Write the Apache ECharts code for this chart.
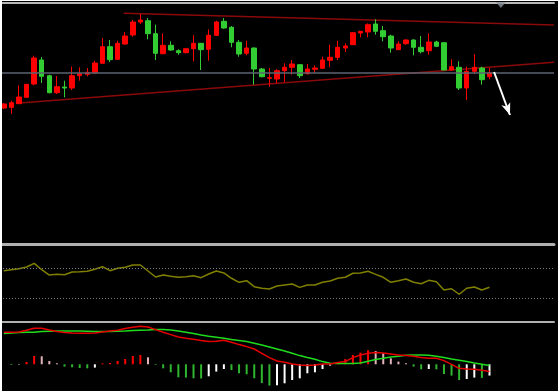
<!DOCTYPE html>
<html>
<head>
<meta charset="utf-8">
<script src="https://cdn.jsdelivr.net/npm/echarts@6/dist/echarts.min.js"></script>
<style>
html,body{margin:0;padding:0;background:#000;}
#c{width:558px;height:391px;}
</style>
</head>
<body>
<div id="c"></div>
<script>
// ---- data ----
const slotCount = 73; // 65 bars + empty space on the right
const categories = Array.from({length: slotCount}, (_, i) => String(i + 1));

const opens  = [192,192.7,196.3,202.7,216,240,224.3,207.3,213,212,224.3,225.7,227.3,236.7,253.3,240.7,256,265,278,279.3,266.3,246.3,254.7,249.3,247.3,251.3,256.7,250.7,264.7,278.7,272.7,257.7,246.7,252,231,221.7,221,229.3,232.7,235.3,226.3,230.7,231.7,239.7,242.7,252,255.3,267,268,276,269.3,264,250.3,256.3,260,252.7,249.3,258,257.3,230,232.7,212,228.7,232,223.3];
const closes = [196,197.3,203,215.7,242,223.7,207.3,213.3,212,224.3,226.3,227.7,237,253.3,240.3,256.7,264,278,280,266.3,246.7,254.7,250,247.3,251.3,256.7,250.3,264.7,278,272,257.7,246,252,231,223.3,222.3,229.3,232.7,236,224.3,231,232,240,242.7,252.7,254,267.3,268.7,275.3,268.7,263.3,252,256,260,252.7,248.3,258,253.7,230,233.3,212,228.7,232.7,220.3,227.3];
const lows   = [191,186,196,202,214.7,217,206.7,206,202.7,210,219.3,223.7,226,236.7,238,240,255.3,263.3,276,260.7,240,245.7,249.3,245.3,246.7,238.7,230,239.3,264,271.3,252.7,243.3,244.7,215.3,222.7,213.3,216.7,218,225.3,222,225.3,226.7,231.3,232.7,240,248,255,262.7,262.7,265.3,258.7,247.3,250,255.3,244.7,246.7,245.3,253,229.7,229.3,210,200,226,215.3,220.7];
const highs  = [197,199.3,214.7,216,244.3,243,225.3,224,219.3,233.3,232.7,232,239.3,262,260,259.3,268,280,286,282,275.3,266.7,258.7,250.7,252,264.7,257,270.7,279.3,282,274,260,259.3,252.5,232,232,230.7,236.7,240,236,236,234.7,243.3,255.3,259.3,256.7,268,269,276.7,280.7,274,265.3,258.7,260.7,260.7,264,266.7,259.3,258,240.7,238.7,233.3,246,233.3,232];

const rsiValues = [66.5,67.8,69.1,71.4,76.2,67.8,60.8,61.7,61.2,64.8,65.2,65.7,68.3,71.8,66.5,69.6,71.0,74.0,74.0,66.1,58.2,60.8,59.1,57.8,58.6,59.9,57.3,62.1,66.1,63.5,56.5,51.2,53.3,45.4,43.3,42.3,46.3,47.6,48.9,44.5,47.6,47.6,51.2,52.9,56.5,57.8,63.1,63.5,65.7,61.7,57.8,51.2,53.3,55.5,51.2,49.3,53.8,52.0,41.0,42.7,35.4,43.3,45.0,41.0,44.6];
const rsiLevels = [70, 30];

const histValues = [0,-0.7,-0.4,2.3,8.3,8.0,3.3,1.0,-2.3,-3.0,-3.7,-4.0,-3.3,1.0,1.3,3.3,5.3,8.3,9.3,7.0,-0.7,-4.0,-8.0,-13.0,-13.3,-14.0,-14.2,-12.0,-7.3,-4.7,-5.7,-9.0,-10.0,-14.0,-18.7,-21.3,-21.0,-19.0,-15.7,-14.0,-9.0,-8.0,-4.7,-1.3,1.7,5.3,9.3,11.7,14.0,13.3,11.0,6.0,2.7,1.0,-2.3,-5.0,-4.7,-5.0,-9.7,-11.3,-15.7,-14.7,-13.3,-13.6,-11.3];
const redLine = [32.0,32.0,32.3,34.0,36.0,36.0,34.3,32.7,31.7,31.3,31.0,31.0,31.3,32.3,33.3,34.0,35.7,37.0,38.0,37.3,34.7,32.0,29.7,27.3,26.0,25.0,23.7,22.7,23.0,24.0,22.0,19.7,17.7,15.3,11.0,6.7,3.3,2.0,0.3,-0.7,-1.3,-0.7,0.3,0.3,1.7,2.7,6.7,9.3,11.0,11.7,11.3,10.3,9.3,8.7,8.0,6.7,6.0,6.0,3.7,0.0,-4.0,-4.7,-5.0,-6.0,-7.3];
const greenLine = [30.7,31.3,31.7,32.0,32.0,32.7,33.0,33.3,33.3,33.3,33.3,33.0,32.7,32.7,32.7,33.0,33.3,33.7,34.0,34.3,34.7,34.7,34.3,33.3,32.0,30.7,29.3,28.0,27.0,26.0,24.7,23.7,22.7,21.0,19.3,17.3,15.3,13.3,11.0,8.7,6.7,5.0,2.7,1.0,0.7,0.7,0.7,1.3,3.0,4.7,6.0,7.3,8.0,9.0,9.3,9.3,9.0,8.0,6.7,5.3,4.0,2.7,1.3,0.0,-1.3];

// drawn objects (in data units: [bar position, price])
const trendUpper = [[15.8, 286.7], [72.5, 275.1]];
const trendLower = [[1.6, 196.7], [72.5, 237.8]];
const arrowLine = [[64.6, 228], [66.7, 185]];
const shiftMarker = [[65.5, 295]];

// ---- build ----
const candleData = opens.map((o, i) => [o, closes[i], lows[i], highs[i]]);
const histData = histValues.map((v, i) => {
  const prev = i > 0 ? histValues[i - 1] : 0;
  let c;
  if (v >= 0) c = v >= prev ? '#ff0000' : '#e2b3bb';
  else c = v < prev ? '#2fb52f' : '#ffffff';
  return {value: v, itemStyle: {color: c}};
});

const sepAxis = (grid, color, width) => ({
  type: 'category', gridIndex: grid, data: categories, position: 'top', boundaryGap: true,
  axisLine: {show: true, onZero: false, lineStyle: {color: color, width: width}},
  axisTick: {show: false}, axisLabel: {show: false}, splitLine: {show: false}
});

const chart = echarts.init(document.getElementById('c'), null, {renderer: 'canvas'});
chart.setOption({
  backgroundColor: '#000000',
  animation: false,
  grid: [
    {left: -1, width: 555, top: 3, height: 240},
    {left: -1, width: 555, top: 244.5, height: 76.6},
    {left: -1, width: 555, top: 321.7, height: 69.3}
  ],
  xAxis: [
    sepAxis(0, '#b8b8b8', 2),
    {type: 'value', gridIndex: 0, min: -0.5, max: slotCount - 0.5, show: false},
    sepAxis(1, '#b0b0b0', 3),
    sepAxis(2, '#b0b0b0', 2)
  ],
  yAxis: [
    {type: 'value', gridIndex: 0, min: 57, max: 297, show: false},
    {type: 'value', gridIndex: 1, min: 0, max: 101.05, show: false},
    {type: 'value', gridIndex: 2, min: -26.7, max: 42.6, show: false}
  ],
  series: [
    {
      type: 'line', xAxisIndex: 0, yAxisIndex: 0, data: [], z: 1, silent: true,
      markLine: {silent: true, symbol: 'none', label: {show: false},
        lineStyle: {color: '#5c6572', width: 1.5, type: 'solid'},
        data: [{yAxis: closes[closes.length - 1]}]}
    },
    {
      type: 'line', xAxisIndex: 1, yAxisIndex: 0, data: trendUpper, symbol: 'none', z: 2,
      lineStyle: {color: '#8a0a0a', width: 1.5}
    },
    {
      type: 'line', xAxisIndex: 1, yAxisIndex: 0, data: trendLower, symbol: 'none', z: 2,
      lineStyle: {color: '#8a0a0a', width: 1.5}
    },
    {
      type: 'candlestick', xAxisIndex: 0, yAxisIndex: 0, data: candleData, barWidth: 5, z: 3,
      itemStyle: {color: '#ff0000', color0: '#32cd32', borderColor: '#ff0000', borderColor0: '#32cd32', borderWidth: 1}
    },
    {
      type: 'line', xAxisIndex: 1, yAxisIndex: 0, data: [], z: 4,
      markLine: {silent: true, symbol: ['none', 'arrow'], symbolSize: [7, 12], label: {show: false},
        lineStyle: {color: '#ffffff', width: 2, type: 'solid'},
        data: [[{coord: arrowLine[0]}, {coord: arrowLine[1]}]]}
    },
    {
      type: 'scatter', xAxisIndex: 1, yAxisIndex: 0, data: shiftMarker, symbol: 'triangle',
      symbolRotate: 180, symbolSize: [10, 6], itemStyle: {color: '#8a919b'}, z: 5
    },
    {
      type: 'line', xAxisIndex: 2, yAxisIndex: 1, data: rsiValues, symbol: 'none',
      lineStyle: {color: '#808000', width: 1.5},
      markLine: {silent: true, symbol: 'none', label: {show: false},
        lineStyle: {color: '#7c7c7c', width: 1, type: [1, 2]},
        data: rsiLevels.map(v => ({yAxis: v}))}
    },
    {
      type: 'bar', xAxisIndex: 3, yAxisIndex: 2, data: histData, barWidth: 2
    },
    {
      type: 'line', xAxisIndex: 3, yAxisIndex: 2, data: greenLine, symbol: 'none',
      lineStyle: {color: '#1fdc1f', width: 1.5}, z: 3
    },
    {
      type: 'line', xAxisIndex: 3, yAxisIndex: 2, data: redLine, symbol: 'none',
      lineStyle: {color: '#e60000', width: 1.5}, z: 4
    }
  ],
  graphic: [
    {type: 'rect', left: 0, top: 0, shape: {width: 2, height: 391}, style: {fill: '#ffffff'}, z: 100},
    {type: 'rect', left: 0, top: 0, shape: {width: 558, height: 1}, style: {fill: '#ffffff'}, z: 100}
  ]
});
</script>
</body>
</html>
